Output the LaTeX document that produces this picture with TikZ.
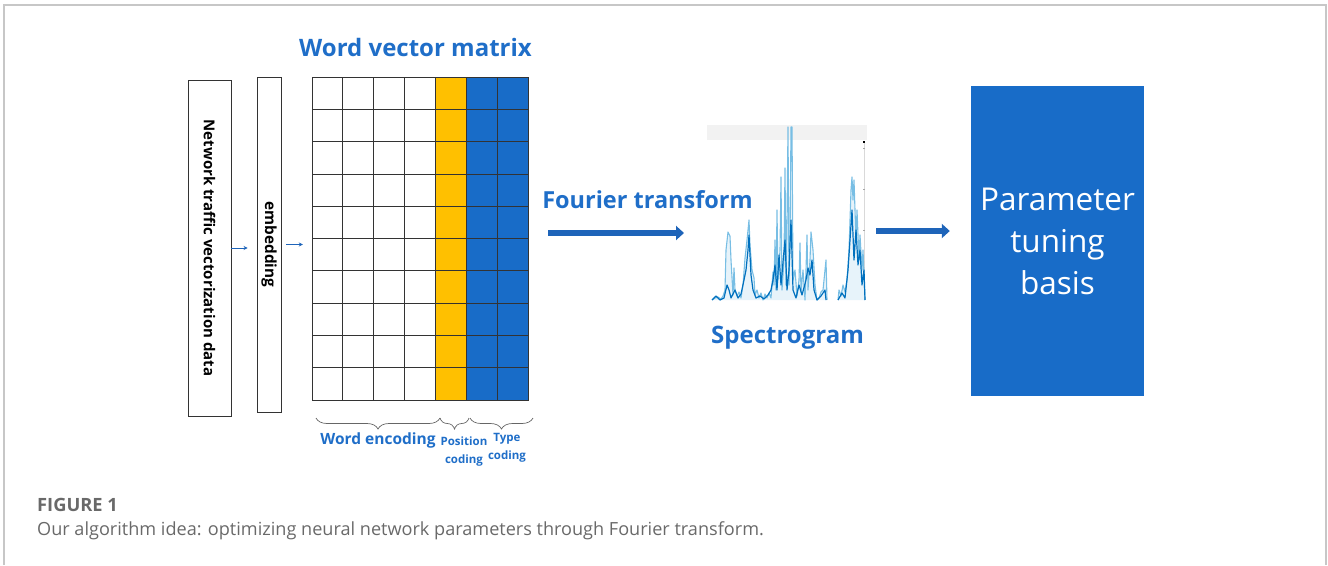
\documentclass[tikz,border=0pt]{standalone}
\usepackage{fontspec}
\setmainfont{Open Sans}
\newfontfamily\capfont{Open Sans}
\usetikzlibrary{arrows.meta,decorations.pathreplacing}
\definecolor{tblue}{RGB}{31,110,200}
\definecolor{bblue}{RGB}{24,108,200}
\definecolor{ablue}{RGB}{30,100,185}
\definecolor{myyellow}{RGB}{255,192,0}
\definecolor{lspec}{RGB}{120,190,228}
\definecolor{dspec}{RGB}{0,112,190}
\definecolor{capgray}{RGB}{105,105,105}
\tikzset{
  vbox/.style={draw=black!80, line width=0.9pt, inner sep=0pt},
  cellw/.style={draw=black!80, line width=0.8pt, fill=white},
  celly/.style={draw=black!80, line width=0.8pt, fill=myyellow},
  cellb/.style={draw=black!80, line width=0.8pt, fill=bblue},
  smallarrow/.style={draw=ablue, line width=1pt, -{Stealth[length=4pt,width=4pt]}},
  bigarrow/.style={draw=ablue, line width=5.5pt, -{Triangle[length=8pt,width=14pt]}},
  bluetxt/.style={text=tblue, font=\bfseries},
  bracesty/.style={draw=black!60, line width=0.7pt, decorate, decoration={brace, amplitude=11pt, mirror}},
}
\begin{document}
\begin{tikzpicture}[x=1pt,y=-1pt]
\useasboundingbox (0,0) rectangle (1328,565);
% frame
\draw[black!22, line width=1.3pt] (4,565) -- (4,5) -- (1326,5) -- (1326,565);

% input boxes
\node[vbox, minimum width=43pt, minimum height=336pt] (net) at (209.5,248) {};
\node[rotate=-90, font=\fontsize{15}{18}\selectfont\bfseries] (netlbl) at (net.center) {Network traffic vectorization data};
\node[vbox, minimum width=24pt, minimum height=335pt] (emb) at (269,244.5) {};
\node[rotate=-90, font=\fontsize{15.3}{18}\selectfont\bfseries] (emblbl) at (emb.center) {embedding};

% matrix
\foreach \c in {0,...,6}{
  \foreach \r in {0,...,9}{
    \ifnum\c<4 \def\cs{cellw}\else\ifnum\c=4 \def\cs{celly}\else\def\cs{cellb}\fi\fi
    \path[\cs] ({312+\c*30.86},{77+\r*32.3}) rectangle ({312+(\c+1)*30.86},{77+(\r+1)*32.3});
  }
}
\node[minimum width=216pt, minimum height=323pt, inner sep=0pt] (mat) at (420,238.5) {};
\node[bluetxt, font=\fontsize{24}{30}\selectfont\bfseries] (title) at (415.5,47) {Word vector matrix};

% small arrows
\draw[smallarrow, shorten >=9pt] (net.east) -- (net.east -| emb.west);
\draw[smallarrow, shorten >=9pt, shorten <=5pt] (emb.east) -- (emb.east -| mat.west);

% braces
\coordinate (b0) at (316,418);
\coordinate (b1) at (440,418);
\coordinate (b2) at (469,418);
\coordinate (b3) at (533,418);
\draw[bracesty] (b0) -- (b1);
\draw[bracesty] (b1) -- (b2);
\draw[bracesty] ([xshift=1pt]b2) -- (b3);
\node[bluetxt, font=\fontsize{15.5}{22}\selectfont\bfseries] (we) at (378,440) {Word encoding};
\node[bluetxt, font=\fontsize{11.5}{18}\selectfont\bfseries, align=center] (pc) at (464,452) {Position\\coding};
\node[bluetxt, font=\fontsize{11.5}{18}\selectfont\bfseries, align=center] (tc) at (507,447.5) {Type\\coding};

% Fourier transform arrow
\node[bluetxt, font=\fontsize{23.5}{26}\selectfont\bfseries] (ft) at (647.5,200) {Fourier transform};
\coordinate (fa) at (548,233);
\coordinate (fb) at (684,233);
\draw[bigarrow] (fa) -- (fb);

% spectrogram
\fill[black!5] (707,125) rectangle (867,140);
\draw[black!15, line width=0.4pt] (864,142) -- (864,300);
\foreach \ty in {148,189,230}{\fill[black!35] (863,\ty) rectangle (865,{\ty+1});}
\fill[black] (863,141) rectangle (865,143);
\fill[lspec, opacity=0.18] (712,300) -- (715,298) -- (718,297) -- (721,299) -- (723,296) -- (725,290) -- (726,250) -- (728,232) -- (730,236) -- (731,260) -- (733,295) -- (734,268) -- (735,290) -- (737,296) -- (739,292) -- (741,298) -- (743,285) -- (745,258) -- (747,240) -- (749,220) -- (750,245) -- (752,270) -- (754,278) -- (755,295) -- (757,290) -- (759,298) -- (761,293) -- (763,300) -- (765,294) -- (767,298) -- (769,293) -- (771,298) -- (773,272) -- (774,285) -- (775,240) -- (776,290) -- (777,210) -- (778,280) -- (780,250) -- (781,177) -- (782,290) -- (784,260) -- (785,168) -- (786,285) -- (787,220) -- (788,127) -- (789,285) -- (790,240) -- (791,127) -- (792,127) -- (793,280) -- (795,270) -- (797,296) -- (799,280) -- (800,243) -- (801,292) -- (803,270) -- (805,300) -- (806,270) -- (807,235) -- (808,290) -- (810,260) -- (811,232) -- (813,250) -- (815,285) -- (817,300) -- (819,298) -- (821,292) -- (823,290) -- (825,270) -- (826,260) -- (827,300) -- cycle;
\fill[lspec, opacity=0.18] (838,300) -- (839,290) -- (841,296) -- (843,285) -- (845,292) -- (847,280) -- (849,250) -- (851,190) -- (852,177) -- (853,200) -- (854,180) -- (856,240) -- (857,210) -- (859,260) -- (860,235) -- (862,270) -- (863,250) -- (865,300) -- cycle;
\draw[lspec, line width=1.1pt, line join=round] (712,300) -- (715,298) -- (718,297) -- (721,299) -- (723,296) -- (725,290) -- (726,250) -- (728,232) -- (730,236) -- (731,260) -- (733,295) -- (734,268) -- (735,290) -- (737,296) -- (739,292) -- (741,298) -- (743,285) -- (745,258) -- (747,240) -- (749,220) -- (750,245) -- (752,270) -- (754,278) -- (755,295) -- (757,290) -- (759,298) -- (761,293) -- (763,300) -- (765,294) -- (767,298) -- (769,293) -- (771,298) -- (773,272) -- (774,285) -- (775,240) -- (776,290) -- (777,210) -- (778,280) -- (780,250) -- (781,177) -- (782,290) -- (784,260) -- (785,168) -- (786,285) -- (787,220) -- (788,127) -- (789,285) -- (790,240) -- (791,127) -- (792,127) -- (793,280) -- (795,270) -- (797,296) -- (799,280) -- (800,243) -- (801,292) -- (803,270) -- (805,300) -- (806,270) -- (807,235) -- (808,290) -- (810,260) -- (811,232) -- (813,250) -- (815,285) -- (817,300) -- (819,298) -- (821,292) -- (823,290) -- (825,270) -- (826,260) -- (827,300);
\draw[lspec, line width=1.1pt, line join=round] (838,300) -- (839,290) -- (841,296) -- (843,285) -- (845,292) -- (847,280) -- (849,250) -- (851,190) -- (852,177) -- (853,200) -- (854,180) -- (856,240) -- (857,210) -- (859,260) -- (860,235) -- (862,270) -- (863,250) -- (865,300);
\draw[dspec, line width=1.2pt, line join=round] (712,300) -- (716,296) -- (720,300) -- (724,298) -- (727,285) -- (729,290) -- (731,298) -- (735,290) -- (738,298) -- (741,294) -- (744,280) -- (746,270) -- (748,250) -- (749,235) -- (751,275) -- (753,290) -- (756,298) -- (760,296) -- (764,299) -- (768,295) -- (771,290) -- (773,280) -- (775,265) -- (777,290) -- (779,255) -- (781,285) -- (783,262) -- (785,240) -- (787,290) -- (789,270) -- (791,220) -- (793,290) -- (796,298) -- (799,285) -- (802,295) -- (806,280) -- (808,268) -- (810,275) -- (812,260) -- (814,290) -- (817,300) -- (821,296) -- (825,290) -- (826,300);
\draw[dspec, line width=1.2pt, line join=round] (838,300) -- (842,293) -- (845,298) -- (848,270) -- (850,240) -- (852,210) -- (854,260) -- (856,230) -- (858,265) -- (860,250) -- (862,285) -- (864,270) -- (865,300);
\coordinate (spec) at (866,231);
\node[bluetxt, font=\fontsize{24}{28}\selectfont\bfseries] (sg) at (787.5,338) {Spectrogram};

% parameter box
\node[fill=bblue, minimum width=173pt, minimum height=310pt, text=white, align=center,
      font=\fontsize{31.5}{42}\selectfont] (param) at (1057.5,241) {Parameter\\tuning\\basis};
\draw[bigarrow, shorten <=10pt, shorten >=21pt] (spec) -- (spec -| param.west);

% caption
\node[anchor=base west, inner sep=0pt, text=capgray, font=\capfont\fontsize{18.3}{20}\selectfont\bfseries] (figno) at (37,511) {FIGURE 1};
\node[anchor=base west, inner sep=0pt, text=capgray, font=\capfont\fontsize{18.1}{20}\selectfont] (cap) at (37,535) {Our algorithm idea: optimizing neural network parameters through Fourier transform.};
\end{tikzpicture}
\end{document}
